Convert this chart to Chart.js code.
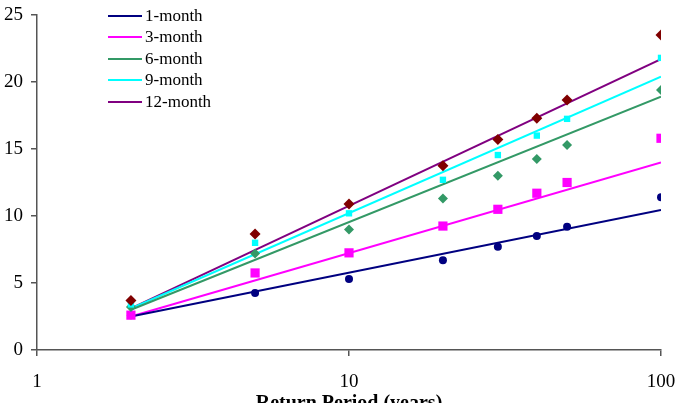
<!DOCTYPE html>
<html>
<head>
<meta charset="utf-8">
<script src="https://cdn.jsdelivr.net/npm/chart.js@4.4.1/dist/chart.umd.min.js"></script>
<style>
html,body{margin:0;padding:0;background:#fff}
.wrap{position:relative;width:678px;height:403px;overflow:hidden}
canvas{display:block}
.legend{position:absolute;left:108px;top:5px;font-family:'Liberation Serif','Times New Roman',serif;font-size:17px;color:#000}
.legend div{height:21.5px;display:flex;align-items:center;gap:3px}
.legend i{display:inline-block;width:34px;height:2px}
</style>
</head>
<body>
<div class="wrap">
  <canvas id="c" width="678" height="403"></canvas>
  <div class="legend" id="legend"></div>
</div>
<script>
// return periods (years)
const periods = [2, 5, 10, 20, 30, 40, 50, 100];
const seriesNames = ['1-month', '3-month', '6-month', '9-month', '12-month'];

// observed values
const obs1 = [2.6, 4.25, 5.3, 6.7, 7.7, 8.5, 9.2, 11.4];
const obs3 = [2.6, 5.75, 7.25, 9.25, 10.5, 11.7, 12.5, 15.8];
const obs6 = [3.2, 7.2, 9.0, 11.3, 13.0, 14.25, 15.3, 19.4];
const obs9 = [3.4, 8.0, 10.2, 12.7, 14.55, 16.0, 17.25, 21.8];
const obs12 = [3.7, 8.65, 10.9, 13.75, 15.7, 17.3, 18.65, 23.5];

// fitted line end values at 2 and 100 years
const fitX = [2, 100];
const fit1 = [2.5, 10.45];
const fit3 = [2.5, 14.0];
const fit6 = [3.0, 18.9];
const fit9 = [3.1, 20.4];
const fit12 = [3.1, 21.7];

const yTicks = [0, 5, 10, 15, 20, 25];
const xTicks = [1, 10, 100];

const lineColors = ['#000080', '#FF00FF', '#339966', '#00FFFF', '#800080'];
const markerColors = ['#000080', '#FF00FF', '#339966', '#00FFFF', '#800000'];
const markerStyles = ['circle', 'rect', 'rectRot', 'rect', 'rectRot'];
const markerSizes = [4, 6.5, 5, 4.5, 5.5];

const obs = [obs1, obs3, obs6, obs9, obs12];
const fits = [fit1, fit3, fit6, fit9, fit12];

const pts = (xs, ys) => xs.map((x, i) => ({ x, y: ys[i] }));

const datasets = [];
fits.forEach((f, i) => {
  datasets.push({
    label: seriesNames[i],
    data: pts(fitX, f),
    showLine: true,
    borderColor: lineColors[i],
    borderWidth: 2,
    pointRadius: 0,
    fill: false,
    order: 10
  });
});
obs.forEach((o, i) => {
  datasets.push({
    label: seriesNames[i] + ' obs',
    data: pts(periods, o),
    showLine: false,
    pointStyle: markerStyles[i],
    pointRadius: markerSizes[i],
    backgroundColor: markerColors[i],
    borderColor: markerColors[i],
    borderWidth: 0,
    order: 5 - i
  });
});

const font = { family: "'Liberation Serif','Times New Roman',serif", size: 19 };

new Chart(document.getElementById('c'), {
  type: 'scatter',
  data: { datasets },
  options: {
    responsive: false,
    animation: false,
    layout: { padding: { left: 0, top: 15, right: 17, bottom: 0 } },
    plugins: { legend: { display: false }, tooltip: { enabled: false } },
    scales: {
      x: {
        type: 'logarithmic',
        min: 1,
        max: 100,
        afterBuildTicks: s => { s.ticks = xTicks.map(v => ({ value: v })); },
        afterFit: s => { s.height = 53; s.paddingLeft = 0; s.paddingRight = 0; },
        ticks: { color: '#000', font, padding: 15, maxRotation: 0, callback: v => String(v) },
        grid: { drawOnChartArea: false, drawTicks: true, tickLength: 6, color: '#555', lineWidth: 1.5 },
        border: { display: true, color: '#555', width: 1.5 },
        title: {
          display: true,
          text: 'Return Period (years)',
          color: '#000',
          font: { family: font.family, size: 20, weight: 'bold' },
          padding: { top: 0, bottom: -13 }
        }
      },
      y: {
        min: 0,
        max: 25,
        afterBuildTicks: s => { s.ticks = yTicks.map(v => ({ value: v })); },
        afterFit: s => { s.width = 37; s.paddingTop = 0; s.paddingBottom = 0; },
        ticks: { color: '#000', font, padding: 8 },
        grid: { drawOnChartArea: false, drawTicks: true, tickLength: 6, color: '#555', lineWidth: 1.5 },
        border: { display: true, color: '#555', width: 1.5 }
      }
    }
  }
});

const legend = document.getElementById('legend');
seriesNames.forEach((name, i) => {
  const row = document.createElement('div');
  row.innerHTML = `<i style="background:${lineColors[i]}"></i><span>${name}</span>`;
  legend.appendChild(row);
});
</script>
</body>
</html>
